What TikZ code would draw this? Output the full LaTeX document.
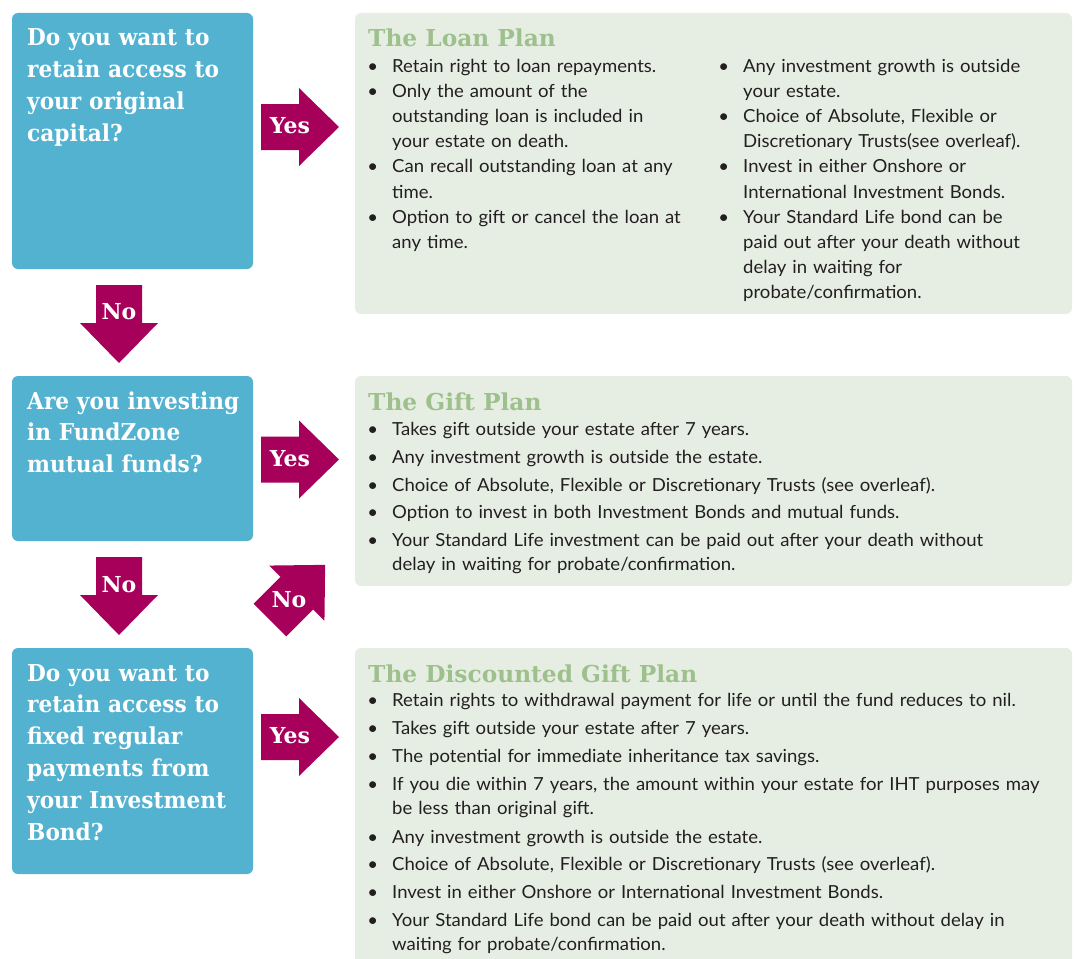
\documentclass[tikz,border=0pt]{standalone}
\usepackage{fontspec}
\setmainfont[FakeStretch=1.03]{Lato}
\newfontfamily\slabfont[FakeStretch=0.93]{DejaVu Serif}
\newfontfamily\slabwide{DejaVu Serif}
\definecolor{qblue}{HTML}{52B2D0}
\definecolor{pbg}{HTML}{E6EEE4}
\definecolor{mag}{HTML}{A7005A}
\definecolor{tgreen}{HTML}{9EC08C}
\definecolor{bodytxt}{HTML}{231F20}
\newcommand\magarrow[3]{\begin{scope}[shift={(#1,#2)},rotate=#3]
\fill[mag] (0,23) -- (38,23) -- (38,39) -- (78,0) -- (38,-39) -- (38,-23) -- (0,-23) -- cycle;
\end{scope}}
\newcommand\bul{\llap{•\hskip 14pt}}
\begin{document}
\begin{tikzpicture}[x=1pt,y=-1pt,
  qbox/.style={fill=qblue, draw=none, rounded corners=6pt},
  pbox/.style={fill=pbg, draw=none, rounded corners=6pt},
  qtxt/.style={anchor=base west, inner sep=0pt, text=white, text width=230pt, align=left,
    font=\slabfont\bfseries\fontsize{23.3}{31.8}\selectfont},
  ttl/.style={anchor=base west, inner sep=0pt, text=tgreen,
    font=\slabwide\bfseries\fontsize{23.3}{28}\selectfont},
  lbl/.style={anchor=base, inner sep=0pt, text=white,
    font=\slabwide\bfseries\fontsize{22}{26}\selectfont},
  itm/.style={anchor=base west, inner sep=0pt, text=bodytxt, text width=330pt, align=left,
    font=\fontsize{18}{25.2}\selectfont},
  citm/.style={anchor=base west, inner sep=0pt, text=bodytxt, text width=680pt, align=left,
    font=\fontsize{18}{24.3}\selectfont}]
\useasboundingbox (0,0) rectangle (1078,958);
% question boxes
\fill[qbox] (12,13) rectangle (253,269);
\fill[qbox] (12,376) rectangle (253,541);
\fill[qbox] (12,648) rectangle (253,874);
% plan boxes
\fill[pbox] (355,13) rectangle (1072,314);
\fill[pbox] (355,376) rectangle (1072,586);
\fill[pbox] (355,648) rectangle (1072,975);
% questions
\node[qtxt] (q1) at (27,46) {Do you want to\\retain access to\\your original\\capital?};
\node[qtxt] (q2) at (27,409) {Are you investing\\in FundZone\\mutual funds?};
\node[qtxt] (q3) at (27,681) {Do you want to\\retain access to\\fixed regular\\payments from\\your Investment\\Bond?};
% arrows
\magarrow{261}{127}{0}
\magarrow{261}{459.5}{0}
\magarrow{261}{737}{0}
\magarrow{119}{285}{-90}
\magarrow{119}{557}{-90}
\magarrow{270}{620}{45}
\node[lbl] (y1) at (290,133.5) {Yes};
\node[lbl] (y2) at (290,466) {Yes};
\node[lbl] (y3) at (290,743.5) {Yes};
\node[lbl] (n1) at (119,319) {No};
\node[lbl] (n2) at (119,592) {No};
\node[lbl] (n3) at (289,607) {No};
% Loan plan
\node[ttl] (t1) at (368,47) {The Loan Plan};
\node[itm] (l1) at (392,72) {\bul Retain right to loan repayments.};
\node[itm] (l2) at (392,97.2) {\bul Only the amount of the\\outstanding loan is included in\\your estate on death.};
\node[itm] (l3) at (392,172.8) {\bul Can recall outstanding loan at any\\time.};
\node[itm] (l4) at (392,223.2) {\bul Option to gift or cancel the loan at\\any time.};
\node[itm] (r1) at (743,72) {\bul Any investment growth is outside\\your estate.};
\node[itm] (r2) at (743,122.4) {\bul Choice of Absolute, Flexible or\\Discretionary Trusts(see overleaf).};
\node[itm] (r3) at (743,172.8) {\bul Invest in either Onshore or\\International Investment Bonds.};
\node[itm] (r4) at (743,223.2) {\bul Your Standard Life bond can be\\paid out after your death without\\delay in waiting for\\probate/confirmation.};
% Gift plan
\node[ttl] (t2) at (368,410) {The Gift Plan};
\node[citm] (g1) at (392,435) {\bul Takes gift outside your estate after 7 years.};
\node[citm] (g2) at (392,463) {\bul Any investment growth is outside the estate.};
\node[citm] (g3) at (392,491) {\bul Choice of Absolute, Flexible or Discretionary Trusts (see overleaf).};
\node[citm] (g4) at (392,518.5) {\bul Option to invest in both Investment Bonds and mutual funds.};
\node[citm] (g5) at (392,546) {\bul Your Standard Life investment can be paid out after your death without\\delay in waiting for probate/confirmation.};
% Discounted gift plan
\node[ttl] (t3) at (368,682) {The Discounted Gift Plan};
\node[citm] (d1) at (392,706.5) {\bul Retain rights to withdrawal payment for life or until the fund reduces to nil.};
\node[citm] (d2) at (392,734.5) {\bul Takes gift outside your estate after 7 years.};
\node[citm] (d3) at (392,762.5) {\bul The potential for immediate inheritance tax savings.};
\node[citm] (d4) at (392,790.5) {\bul If you die within 7 years, the amount within your estate for IHT purposes may\\be less than original gift.};
\node[citm] (d5) at (392,843) {\bul Any investment growth is outside the estate.};
\node[citm] (d6) at (392,870.5) {\bul Choice of Absolute, Flexible or Discretionary Trusts (see overleaf).};
\node[citm] (d7) at (392,898) {\bul Invest in either Onshore or International Investment Bonds.};
\node[citm] (d8) at (392,926) {\bul Your Standard Life bond can be paid out after your death without delay in\\waiting for probate/confirmation.};
\end{tikzpicture}
\end{document}
